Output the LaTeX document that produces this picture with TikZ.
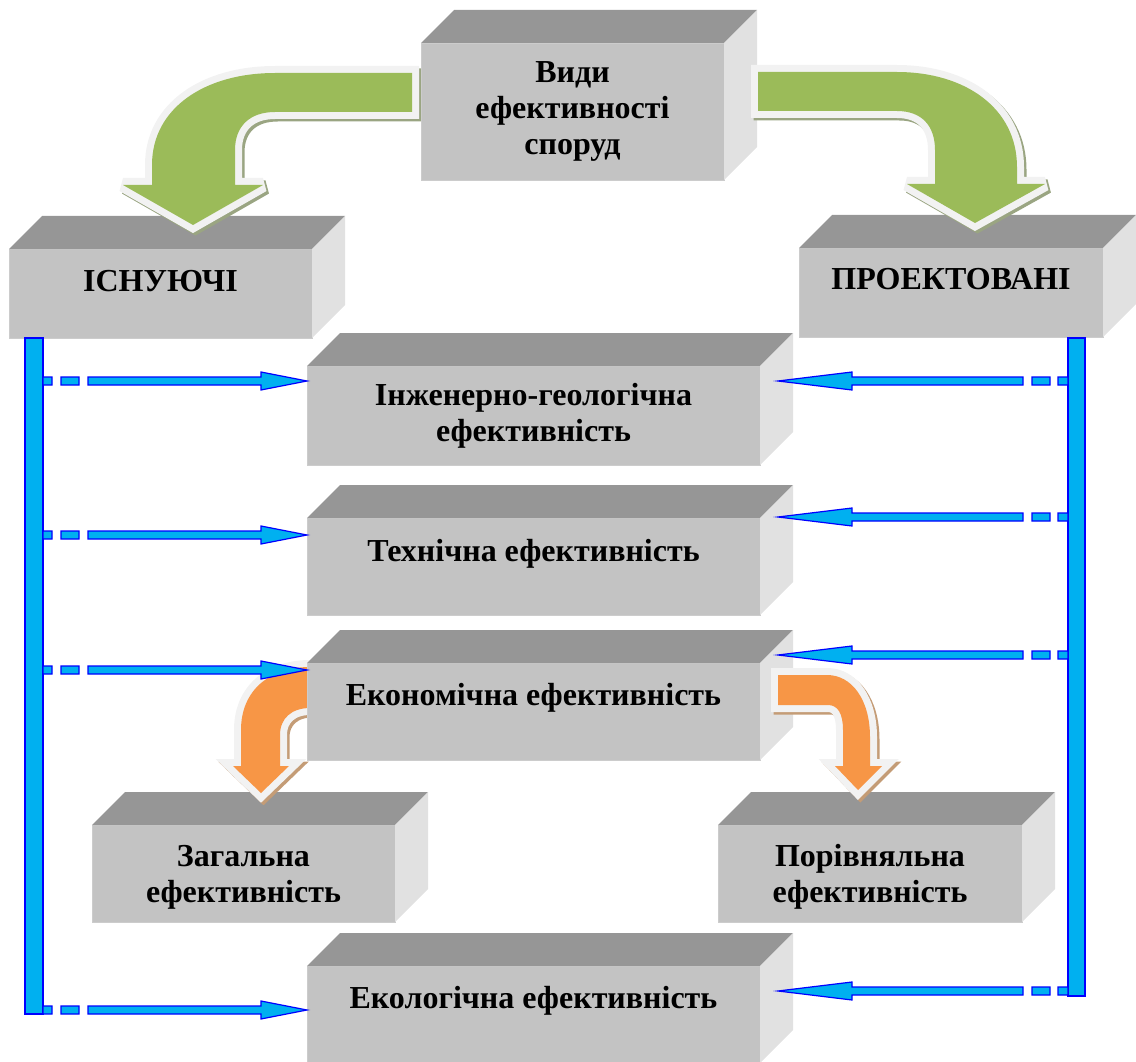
\documentclass[tikz,border=0pt]{standalone}
\usepackage{fontspec}
\setmainfont{Liberation Serif}
\usetikzlibrary{calc}
\definecolor{frontc}{HTML}{C3C3C3}
\definecolor{topc}{HTML}{969696}
\definecolor{sidec}{HTML}{E1E1E1}
\definecolor{grn}{HTML}{9BBB59}
\definecolor{org}{HTML}{F79646}
\definecolor{brd}{HTML}{F2F2F2}
\definecolor{gshd}{HTML}{9AA582}
\definecolor{oshd}{HTML}{C49C76}
\definecolor{cyanf}{HTML}{00B0F0}
\definecolor{blueL}{HTML}{0000FF}
\tikzset{
  face/.style={fill=frontc, draw=frontc!85!white, line width=0.8pt, inner sep=0pt, outer sep=0pt},
  topface/.style={fill=topc},
  sideface/.style={fill=sidec},
  lab/.style={anchor=base, inner sep=0pt, font=\fontsize{32}{36}\selectfont\bfseries},
  bar/.style={fill=cyanf, draw=blueL, line width=1.2pt, inner sep=0pt, outer sep=0pt},
  bluesty/.style={fill=cyanf, draw=blueL, line width=1.2pt},
  bigshadow/.style={line width=14pt, line join=miter, miter limit=3},
  bigborder/.style={draw=brd, fill=brd, line width=14pt, line join=miter, miter limit=3},
}
% cube: name, x1, y1, x2, y2 (front face, y downward)
\newcommand\cubebox[5]{%
  \node[face, minimum width={#4-#2}, minimum height={#5-#3}] (#1) at ({(#2+#4)/2},{(#3+#5)/2}) {};
  \fill[topface] (#1.north west) -- ++(33,-33) -- ([shift={(33,-33)}]#1.north east) -- (#1.north east) -- cycle;
  \fill[sideface] (#1.north east) -- ++(33,-33) -- ([shift={(33,-33)}]#1.south east) -- (#1.south east) -- cycle;
}
\newcommand\boxlabel[4]{\node[lab] (#1) at (#2,#3) {\begin{tabular}[t]{@{}c@{}}#4\end{tabular}};}
% blue arrows
\newcommand\blueRight[2]{%
  \draw[bluesty] let \p1=(#1), \p2=(#2) in
    (\x1,\y1-4pt) rectangle (\x1+9pt,\y1+4pt)
    (\x1+18pt,\y1-4pt) rectangle (\x1+36pt,\y1+4pt)
    (\x1+45pt,\y1-4pt) -- (\x2-46pt,\y1-4pt) -- (\x2-46pt,\y1-9pt) -- (\x2,\y1)
      -- (\x2-46pt,\y1+9pt) -- (\x2-46pt,\y1+4pt) -- (\x1+45pt,\y1+4pt) -- cycle;
}
\newcommand\blueLeft[2]{%
  \draw[bluesty] let \p1=(#1), \p2=(#2) in
    (\x1,\y1-4pt) rectangle (\x1-10pt,\y1+4pt)
    (\x1-18pt,\y1-4pt) rectangle (\x1-36pt,\y1+4pt)
    (\x1-45pt,\y1-4pt) -- (\x2+74pt,\y1-4pt) -- (\x2+74pt,\y1-9pt) -- (\x2,\y1)
      -- (\x2+74pt,\y1+9pt) -- (\x2+74pt,\y1+4pt) -- (\x1-45pt,\y1+4pt) -- cycle;
}
% curved arrow paths
\newcommand\pathGreenL{(412,73) -- (275,73) .. controls (205,73) and (152,108) .. (152,165) -- (152,185) -- (123,185) -- (193,225) -- (263,185) -- (235,185) -- (235,150) .. controls (235,126) and (250,112) .. (275,112) -- (412,112) -- cycle}
\newcommand\pathGreenR{(758,72) -- (897,72) .. controls (965,72) and (1017,108) .. (1017,167) -- (1017,184) -- (1045,184) -- (975,223) -- (907,184) -- (935,184) -- (935,150) .. controls (935,126) and (922,111) .. (897,111) -- (758,111) -- cycle}
\newcommand\pathOrangeL{(310,667) .. controls (270,667) and (241,690) .. (241,730) -- (241,766) -- (233,766) -- (261,793) -- (289,766) -- (280,766) -- (280,735) .. controls (280,718) and (292,708) .. (310,708) -- cycle}
\newcommand\pathOrangeR{(778,675) -- (827,675) .. controls (852,675) and (870,700) .. (870,737) -- (870,766) -- (882,766) -- (858,790) -- (835,766) -- (843,766) -- (843,730) .. controls (843,714) and (838,705) .. (828,705) -- (778,705) -- cycle}
\newcommand\bentarrow[3]{% path, fill colour, shadow colour
  \draw[bigshadow, draw=#3, fill=#3, shift={(2.5,2.5)}] #1;
  \draw[bigborder] #1;
  \fill[#2] #1;
}
\begin{document}
\begin{tikzpicture}[x=1pt,y=-1pt]
\useasboundingbox (0,0) rectangle (1136,1062);

% lower-level boxes
\cubebox{isn}{9}{249}{312}{338}
\cubebox{pro}{799}{248}{1103}{337}
\cubebox{zag}{92}{825}{395}{922}
\cubebox{por}{718}{825}{1022}{922}
\cubebox{ig}{307}{366}{760}{465}
\cubebox{tech}{307}{518}{760}{615}

% green arrows and top box
\bentarrow{\pathGreenL}{grn}{gshd}
\cubebox{vid}{421}{43}{724}{180}
\bentarrow{\pathGreenR}{grn}{gshd}

% orange arrows and economic box
\bentarrow{\pathOrangeL}{org}{oshd}
\cubebox{eco}{307}{663}{760}{760}
\cubebox{ekol}{307}{966}{760}{1063}
\bentarrow{\pathOrangeR}{org}{oshd}

% labels
\boxlabel{vidt}{572.5}{83}{Види\\ефективності\\споруд}
\boxlabel{isnt}{160.5}{291}{ІСНУЮЧІ}
\boxlabel{prot}{951}{289}{ПРОЕКТОВАНІ}
\boxlabel{igt}{533.5}{405}{Інженерно-геологічна\\ефективність}
\boxlabel{techt}{533.5}{561}{Технічна ефективність}
\boxlabel{ecot}{533.5}{705}{Економічна ефективність}
\boxlabel{zagt}{243.5}{866}{Загальна\\ефективність}
\boxlabel{port}{870}{866}{Порівняльна\\ефективність}
\boxlabel{ekolt}{533.5}{1008}{Екологічна ефективність}

% blue bars
\node[bar, minimum width=18, minimum height=676] (lbar) at (34,676) {};
\node[bar, minimum width=17, minimum height=658] (rbar) at (1076.5,667) {};

\coordinate (L1) at (lbar.east |- 0,381);
\coordinate (L2) at (lbar.east |- 0,535);
\coordinate (L3) at (lbar.east |- 0,670);
\coordinate (L4) at (lbar.east |- 0,1010);
\coordinate (R1) at (rbar.west |- 0,381);
\coordinate (R2) at (rbar.west |- 0,517);
\coordinate (R3) at (rbar.west |- 0,655);
\coordinate (R4) at (rbar.west |- 0,991);

\coordinate (TL1) at (L1 -| ig.west);
\coordinate (TL2) at (L2 -| tech.west);
\coordinate (TL3) at (L3 -| eco.west);
\coordinate (TL4) at (L4 -| ekol.west);
\coordinate (TR1) at ($(R1 -| ig.east)+(18,0)$);
\coordinate (TR2) at ($(R2 -| tech.east)+(18,0)$);
\coordinate (TR3) at ($(R3 -| eco.east)+(18,0)$);
\coordinate (TR4) at ($(R4 -| ekol.east)+(18,0)$);

\blueRight{L1}{TL1}
\blueRight{L2}{TL2}
\blueRight{L3}{TL3}
\blueRight{L4}{TL4}
\blueLeft{R1}{TR1}
\blueLeft{R2}{TR2}
\blueLeft{R3}{TR3}
\blueLeft{R4}{TR4}
\end{tikzpicture}
\end{document}
